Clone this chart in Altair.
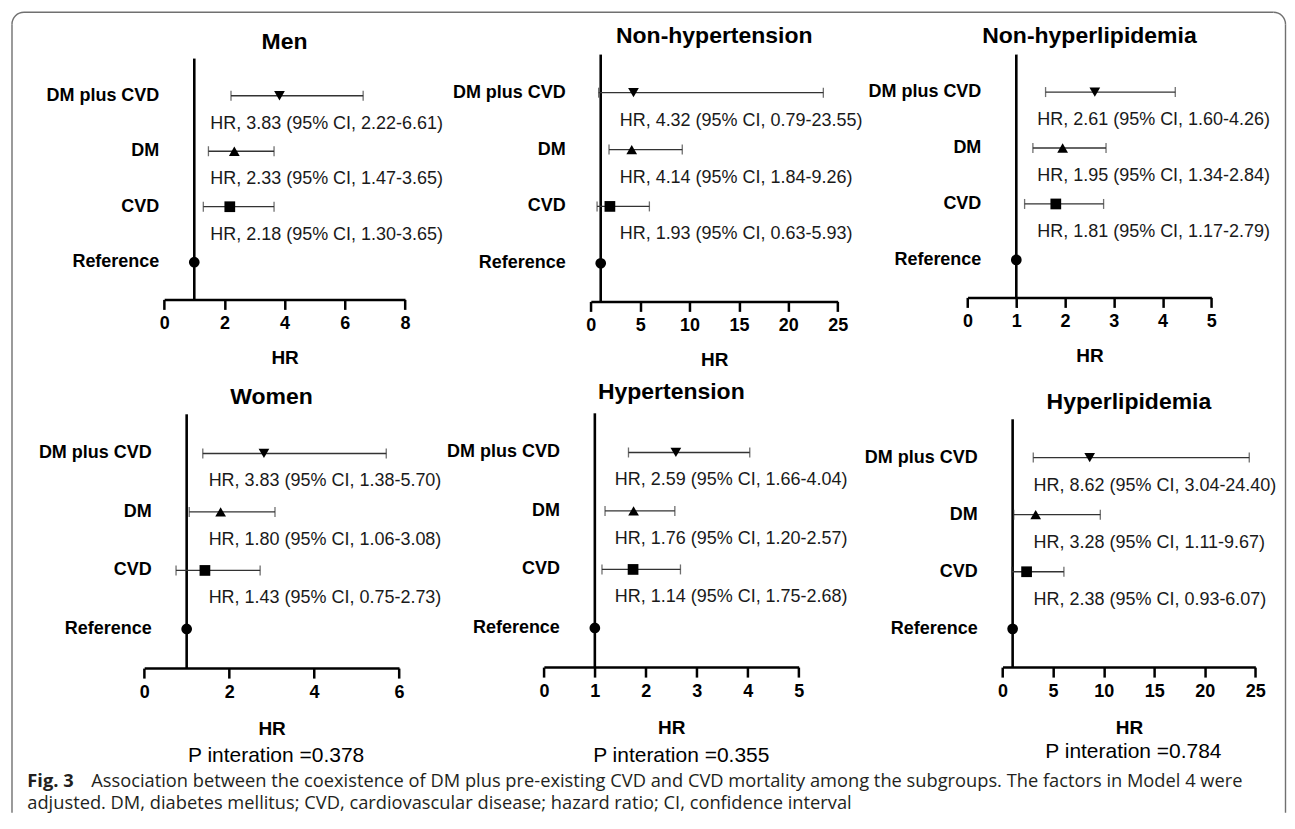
import math
import altair as alt
import pandas as pd

# ---------------- data ----------------
rows = ["DM plus CVD", "DM", "CVD", "Reference"]
shapes = ["triangle-down", "triangle-up", "square", "circle"]
marker_sizes = [115, 115, 85, 75]

men_hr = [3.83, 2.33, 2.18, 1.0]
men_lo = [2.22, 1.47, 1.30, None]
men_hi = [6.61, 3.65, 3.65, None]
men_txt = ["HR, 3.83 (95% CI, 2.22-6.61)", "HR, 2.33 (95% CI, 1.47-3.65)",
           "HR, 2.18 (95% CI, 1.30-3.65)", ""]

nht_hr = [4.32, 4.14, 1.93, 1.0]
nht_lo = [0.79, 1.84, 0.63, None]
nht_hi = [23.55, 9.26, 5.93, None]
nht_txt = ["HR, 4.32 (95% CI, 0.79-23.55)", "HR, 4.14 (95% CI, 1.84-9.26)",
           "HR, 1.93 (95% CI, 0.63-5.93)", ""]

nhl_hr = [2.61, 1.95, 1.81, 1.0]
nhl_lo = [1.60, 1.34, 1.17, None]
nhl_hi = [4.26, 2.84, 2.79, None]
nhl_txt = ["HR, 2.61 (95% CI, 1.60-4.26)", "HR, 1.95 (95% CI, 1.34-2.84)",
           "HR, 1.81 (95% CI, 1.17-2.79)", ""]

wom_hr = [2.82, 1.80, 1.43, 1.0]
wom_lo = [1.38, 1.06, 0.75, None]
wom_hi = [5.70, 3.08, 2.73, None]
wom_txt = ["HR, 3.83 (95% CI, 1.38-5.70)", "HR, 1.80 (95% CI, 1.06-3.08)",
           "HR, 1.43 (95% CI, 0.75-2.73)", ""]

ht_hr = [2.59, 1.76, 1.75, 1.0]
ht_lo = [1.66, 1.20, 1.14, None]
ht_hi = [4.04, 2.57, 2.68, None]
ht_txt = ["HR, 2.59 (95% CI, 1.66-4.04)", "HR, 1.76 (95% CI, 1.20-2.57)",
          "HR, 1.14 (95% CI, 1.75-2.68)", ""]

hl_hr = [8.62, 3.28, 2.38, 1.0]
hl_lo = [3.04, 1.11, 0.93, None]
hl_hi = [24.40, 9.67, 6.07, None]
hl_txt = ["HR, 8.62 (95% CI, 3.04-24.40)", "HR, 3.28 (95% CI, 1.11-9.67)",
          "HR, 2.38 (95% CI, 0.93-6.07)", ""]

ticks_8 = [0, 2, 4, 6, 8]
ticks_6 = [0, 2, 4, 6]
ticks_5 = [0, 1, 2, 3, 4, 5]
ticks_25 = [0, 5, 10, 15, 20, 25]

p_women = "P interation =0.378"
p_ht = "P interation =0.355"
p_hl = "P interation =0.784"

caption_bold = "Fig. 3"
caption_line1 = ("Association between the coexistence of DM plus pre-existing CVD and CVD "
                 "mortality among the subgroups. The factors in Model 4 were")
caption_line2 = ("adjusted. DM, diabetes mellitus; CVD, cardiovascular disease; "
                 "hazard ratio; CI, confidence interval")

# ---------------- layout / style ----------------
F = "Liberation Sans, Arial, sans-serif"
CAPF = "Open Sans, Noto Sans, sans-serif"
BAR = "#333333"
FRAME = "#707070"
TW, TH = 424, 328          # tile size (3 x 2 grid of equal tiles)
FR_W, FR_H, FR_R = 1274.5, 801, 12   # figure frame (open at the bottom)

# plot rectangles inside each tile: (x0, x1, top, bottom)
G_MEN = (152.3, 393.3, 46.3, 287.3)
G_NHT = (155.3, 402.3, 42.3, 289.3)
G_NHL = (108.3, 352.3, 42.3, 285.3)
G_WOM = (132.3, 387.3, 74.3, 328.3)
G_HYT = (108.3, 363.3, 73.3, 327.3)
G_HYL = (143.3, 396.3, 79.3, 327.3)


def panel(name, hr, lo, hi, txt, xmax, ticks, geo, txt_dx=20, title_dy=-16,
          title_pad=16, ptext=None, pdx=0, pdy=88, before=(), after=()):
    x0, x1, top, bot = geo
    df = pd.DataFrame({"group": rows, "hr": hr, "lo": lo, "hi": hi, "txt": txt})
    df["ref"] = 1.0
    xscale = alt.Scale(domain=[0, xmax], range=[x0, x1], nice=False, zero=True)
    xaxis = alt.Axis(values=ticks, title="HR", format="d", offset=bot - TH,
                     titleFont=F, titleFontSize=19, titleFontWeight="bold",
                     titleColor="black", titlePadding=title_pad,
                     labelFont=F, labelFontSize=18, labelFontWeight="bold",
                     labelColor="black", labelPadding=5, labelFlush=False,
                     labelOverlap=False, domainColor="black", domainWidth=2.5,
                     tickColor="black", tickWidth=2.5, tickSize=10, grid=False)
    y = alt.Y("group:N", scale=alt.Scale(type="point", domain=rows, range=[top, bot],
                                         padding=0.67), axis=None)
    base = alt.Chart(df)
    ci = base.transform_filter("isValid(datum.lo)")

    vline = alt.Chart(pd.DataFrame({"ref": [1.0]})).mark_rule(
        color="black", strokeWidth=2.6).encode(
        x=alt.X("ref:Q", scale=xscale, axis=xaxis), y=alt.value(top), y2=alt.value(bot))
    bars = ci.mark_rule(color=BAR, strokeWidth=1.3).encode(
        x=alt.X("lo:Q", scale=xscale, axis=xaxis), x2="hi:Q", y=y)
    cap_lo = ci.mark_tick(color=BAR, size=10, thickness=1.3).encode(
        x=alt.X("lo:Q", scale=xscale, axis=xaxis), y=y)
    cap_hi = ci.mark_tick(color=BAR, size=10, thickness=1.3).encode(
        x=alt.X("hi:Q", scale=xscale, axis=xaxis), y=y)
    pts = base.mark_point(filled=True, opacity=1, color="black").encode(
        x=alt.X("hr:Q", scale=xscale, axis=xaxis), y=y,
        shape=alt.Shape("group:N", scale=alt.Scale(domain=rows, range=shapes),
                        legend=None),
        size=alt.Size("group:N", scale=alt.Scale(domain=rows, range=marker_sizes),
                      legend=None))
    labels = base.mark_text(align="right", baseline="middle", dx=-35, font=F,
                            fontSize=18, fontWeight="bold", color="black").encode(
        x=alt.X("ref:Q", scale=xscale, axis=xaxis), y=y, text="group:N")
    notes = ci.mark_text(align="left", baseline="middle", dx=txt_dx, dy=28, font=F,
                         fontSize=18, color="#1a1a1a").encode(
        x=alt.X("ref:Q", scale=xscale, axis=xaxis), y=y, text="txt:N")
    title = alt.Chart(pd.DataFrame({"t": [name]})).mark_text(
        align="center", baseline="middle", font=F, fontSize=23, fontWeight="bold",
        color="black").encode(text="t:N", x=alt.value((x0 + x1) / 2),
                              y=alt.value(top + title_dy))
    layers = list(before) + [vline, bars, cap_lo, cap_hi, pts, labels, notes, title]
    if ptext is not None:
        ptxt = alt.Chart(pd.DataFrame({"p": [ptext]})).mark_text(
            align="center", baseline="middle", font=F, fontSize=21,
            color="black").encode(text="p:N", x=alt.value((x0 + x1) / 2 + pdx),
                                  y=alt.value(bot + pdy))
        layers.append(ptxt)
    layers += list(after)
    return alt.layer(*layers).properties(width=TW, height=TH)


# ---- figure frame: left, top and right edges with rounded top corners ----
one = pd.DataFrame({"s": [0]})
fr_top = alt.Chart(one).mark_rule(color=FRAME, strokeWidth=1.4).encode(
    x=alt.value(FR_R), x2=alt.value(FR_W - FR_R), y=alt.value(0))
fr_left = alt.Chart(one).mark_rule(color=FRAME, strokeWidth=1.4).encode(
    x=alt.value(0), y=alt.value(FR_R), y2=alt.value(FR_H))
fr_right = alt.Chart(one).mark_rule(color=FRAME, strokeWidth=1.4).encode(
    x=alt.value(FR_W), y=alt.value(FR_R), y2=alt.value(FR_H))
fr_tl = alt.Chart(one).mark_arc(
    color=FRAME, innerRadius=FR_R - 0.7, outerRadius=FR_R + 0.7,
    theta=1.5 * math.pi, theta2=2 * math.pi).encode(
    x=alt.value(FR_R), y=alt.value(FR_R))
fr_tr = alt.Chart(one).mark_arc(
    color=FRAME, innerRadius=FR_R - 0.7, outerRadius=FR_R + 0.7,
    theta=0, theta2=0.5 * math.pi).encode(
    x=alt.value(FR_W - FR_R), y=alt.value(FR_R))
frame_layers = [fr_top, fr_left, fr_right, fr_tl, fr_tr]

# ---- caption (drawn from the Women tile) ----
cap_bold = alt.Chart(pd.DataFrame({"t": [caption_bold]})).mark_text(
    align="left", baseline="middle", font=CAPF, fontSize=18.3, fontWeight="bold",
    color="#231f20").encode(text="t:N", x=alt.value(15.3), y=alt.value(442.5))
cap_l1 = alt.Chart(pd.DataFrame({"t": [caption_line1]})).mark_text(
    align="left", baseline="middle", font=CAPF, fontSize=18.3,
    color="#231f20").encode(text="t:N", x=alt.value(79.3), y=alt.value(442.5))
cap_l2 = alt.Chart(pd.DataFrame({"t": [caption_line2]})).mark_text(
    align="left", baseline="middle", font=CAPF, fontSize=18.3,
    color="#231f20").encode(text="t:N", x=alt.value(15.3), y=alt.value(464.5))

men = panel("Men", men_hr, men_lo, men_hi, men_txt, 8, ticks_8, G_MEN, txt_dx=16,
            title_dy=-17, before=frame_layers)
nht = panel("Non-hypertension", nht_hr, nht_lo, nht_hi, nht_txt, 25, ticks_25, G_NHT,
            txt_dx=19, title_dy=-19)
nhl = panel("Non-hyperlipidemia", nhl_hr, nhl_lo, nhl_hi, nhl_txt, 5, ticks_5, G_NHL,
            txt_dx=21, title_dy=-19)
wom = panel("Women", wom_hr, wom_lo, wom_hi, wom_txt, 6, ticks_6, G_WOM, txt_dx=22,
            title_dy=-17, title_pad=18, ptext=p_women, pdx=4.5, pdy=88,
            after=[cap_bold, cap_l1, cap_l2])
hyt = panel("Hypertension", ht_hr, ht_lo, ht_hi, ht_txt, 5, ticks_5, G_HYT, txt_dx=20,
            title_dy=-21, title_pad=18, ptext=p_ht, pdx=10, pdy=89)
hyl = panel("Hyperlipidemia", hl_hr, hl_lo, hl_hi, hl_txt, 25, ticks_25, G_HYL,
            txt_dx=21, title_dy=-17, title_pad=18, ptext=p_hl, pdx=4.5, pdy=85)

chart = alt.concat(men, nht, nhl, wom, hyt, hyl, columns=3, spacing=0,
                   bounds="flush").properties(
    padding={"left": 2, "top": 2, "right": 0, "bottom": 0},
    background="white",
).configure_view(stroke="transparent")

chart.save("out.html", embed_options={"renderer": "svg", "actions": False})
